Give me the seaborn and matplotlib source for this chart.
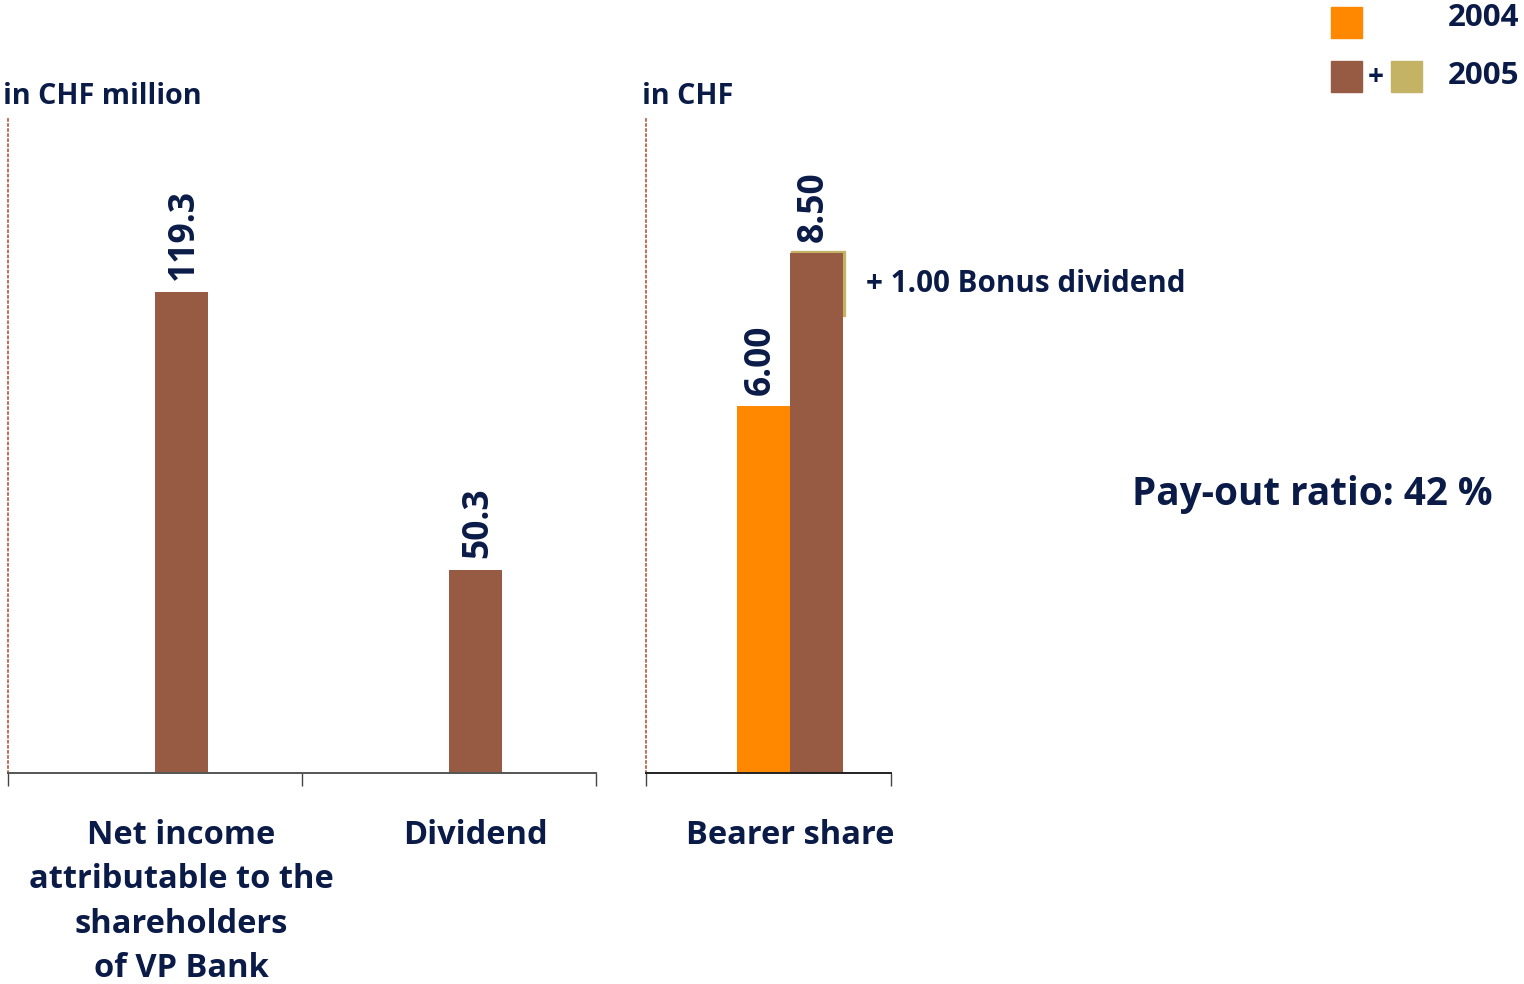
import matplotlib
matplotlib.use("Agg")
import matplotlib.pyplot as plt
import seaborn as sns
import pandas as pd

sns.set_theme(style="white")
plt.rcParams["font.family"] = ["Open Sans", "DejaVu Sans"]
plt.rcParams["font.weight"] = "bold"

# --- data -------------------------------------------------------------
years = ["2004", "2005"]
left_categories = ["Net income\nattributable to the\nshareholders\nof VP Bank", "Dividend"]
left_values_2005 = [119.3, 50.3]
left_labels = ["119.3", "50.3"]

right_category = ["Bearer share"]
bearer_2004 = [6.00]
bearer_2005 = [8.50]
bearer_labels = ["6.00", "8.50"]
bonus_dividend = 1.00

unit_left = "in CHF million"
unit_right = "in CHF"
bonus_text = "+ 1.00 Bonus dividend"
payout_text = "Pay-out ratio: 42 %"

# --- style ------------------------------------------------------------
NAVY = "#0B1B48"
ORANGE = "#FF8800"
BROWN = "#975A43"
OLIVE = "#C4B265"
DOTS = "#C0604A"
palette = {"2004": ORANGE, "2005": BROWN}

W, H = 1524, 984
fig = plt.figure(figsize=(W / 100, H / 100), dpi=100)


def px_axes(x0, x1, y_top, y_bot):
    return fig.add_axes([x0 / W, (H - y_bot) / H, (x1 - x0) / W, (y_bot - y_top) / H])


ax1 = px_axes(8, 596, 118, 773)
ax2 = px_axes(646, 891, 118, 773)

left_df = pd.DataFrame({"category": left_categories, "year": "2005", "value": left_values_2005})
right_df = pd.DataFrame({
    "category": right_category * 2,
    "year": years,
    "value": bearer_2004 + bearer_2005,
})

sns.barplot(data=left_df, x="category", y="value", hue="year", hue_order=years,
            order=left_categories, palette=palette, width=0.36, dodge=True,
            saturation=1, linewidth=0, ax=ax1, legend=False)

# bonus part of the 2005 bearer share dividend, drawn behind the bar
ax2.bar(0.021, bonus_dividend, width=0.379, bottom=bearer_2005[0] - bonus_dividend,
        align="edge", color=OLIVE, edgecolor=OLIVE, linewidth=3.8, zorder=1)
sns.barplot(data=right_df, x="category", y="value", hue="year", hue_order=years,
            palette=palette, width=0.8, dodge=True, saturation=1, linewidth=0,
            ax=ax2, legend=False, zorder=2)

ax1.set_xlim(-0.5, 1.5)
ax1.set_ylim(0, 162.5)
ax2.set_xlim(-1.087, 0.762)
ax2.set_ylim(0, 10.7)

for ax in (ax1, ax2):
    ax.set_facecolor("none")
    ax.set_xlabel("")
    ax.set_ylabel("")
    ax.set_yticks([])
    for s in ("top", "right"):
        ax.spines[s].set_visible(False)
    ax.spines["left"].set_linestyle((0, (1, 1.8)))
    ax.spines["left"].set_color(DOTS)
    ax.spines["left"].set_linewidth(1.3)
    ax.spines["bottom"].set_color("#555555")
    ax.spines["bottom"].set_linewidth(1.4)
    ax.tick_params(axis="x", which="both", direction="out", length=9,
                   width=1.0, color="#444444", bottom=True)

ax1.set_xticks([-0.5, 0.5, 1.5])
ax1.set_xticklabels([])
ax2.set_xticks(list(ax2.get_xlim()))
ax2.set_xticklabels([])
ax2.spines["bottom"].set_color("#222222")

# value labels
for p, lab in zip([p for p in ax1.patches if p.get_height() > 0], left_labels):
    ax1.annotate(lab, (p.get_x() + p.get_width() / 2, p.get_height()),
                 xytext=(2, 9), textcoords="offset points", rotation=90,
                 ha="center", va="bottom", fontsize=25.5, color=NAVY, fontweight="bold")

bars2 = [p for p in ax2.patches if p.get_facecolor()[:3] != matplotlib.colors.to_rgb(OLIVE)]
for p, lab in zip(bars2, bearer_labels):
    ax2.annotate(lab, (p.get_x() + p.get_width() / 2, p.get_height()),
                 xytext=(-2, 8), textcoords="offset points", rotation=90,
                 ha="center", va="bottom", fontsize=25.5, color=NAVY, fontweight="bold")

# category labels under the bars
cat_style = dict(ha="center", va="top", fontsize=23.5, color=NAVY, fontweight="bold",
                 linespacing=1.46)
for i, lab in enumerate(left_categories):
    ax1.annotate(lab, (i + 0.09, 0), xytext=(0, -33), textcoords="offset points", **cat_style)
ax2.annotate(right_category[0], (0, 0), xytext=(0, -33), textcoords="offset points", **cat_style)

txt = dict(color=NAVY, fontweight="bold")
fig.text(3 / W, 1 - 97 / H, unit_left, ha="left", va="center", fontsize=20.7, **txt)
fig.text(642 / W, 1 - 97 / H, unit_right, ha="left", va="center", fontsize=20.7, **txt)
fig.text(866 / W, 1 - 284 / H, bonus_text, ha="left", va="center", fontsize=21.3, **txt)
fig.text(1132 / W, 1 - 495 / H, payout_text, ha="left", va="center", fontsize=27.8, **txt)

# legend
sq = 31
def legend_square(x, y, color):
    fig.patches.append(plt.Rectangle((x / W, 1 - (y + sq) / H), sq / W, sq / H,
                                     transform=fig.transFigure, color=color, figure=fig))

legend_square(1331, 7, palette["2004"])
legend_square(1331, 61, palette["2005"])
legend_square(1391, 61, OLIVE)
fig.text(1376 / W, 1 - 77 / H, "+", ha="center", va="center", fontsize=20, **txt)
fig.text(1519 / W, 1 - 18 / H, years[0], ha="right", va="center", fontsize=22.5, **txt)
fig.text(1519 / W, 1 - 76 / H, years[1], ha="right", va="center", fontsize=22.5, **txt)

fig.savefig("out.png", dpi=100, facecolor="white")
